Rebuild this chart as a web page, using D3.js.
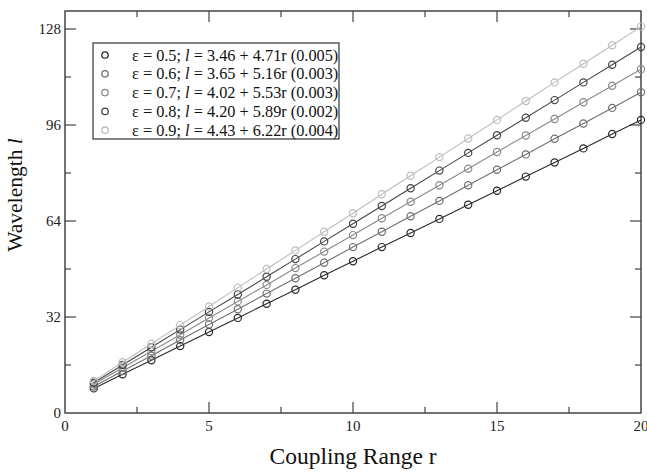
<!DOCTYPE html>
<html lang="en">
<head>
  <meta charset="UTF-8">
  <title>Wavelength vs Coupling Range</title>
  <script src="https://d3js.org/d3.v7.min.js"></script>
  <style>
    body { margin: 0; background: #fff; }
    svg { display: block; font-family: "Liberation Serif", "Times New Roman", serif; }
  </style>
</head>
<body>
<svg width="647" height="473"></svg>
<script>
  // r values
  const couplingRange = [1, 2, 3, 4, 5, 6, 7, 8, 9, 10, 11, 12, 13, 14, 15, 16, 17, 18, 19, 20];

  // wavelength values, one list per epsilon
  const wl05 = [8.2, 12.9, 17.6, 22.3, 27.0, 31.7, 36.4, 41.1, 45.9, 50.6, 55.3, 60.0, 64.7, 69.4, 74.1, 78.8, 83.5, 88.2, 93.0, 97.7];
  const wl06 = [8.8, 14.0, 19.1, 24.3, 29.5, 34.6, 39.8, 44.9, 50.1, 55.3, 60.4, 65.6, 70.7, 75.9, 81.1, 86.2, 91.4, 96.5, 101.7, 106.9];
  const wl07 = [9.6, 15.1, 20.6, 26.1, 31.7, 37.2, 42.7, 48.3, 53.8, 59.3, 64.9, 70.4, 75.9, 81.4, 87.0, 92.5, 98.0, 103.6, 109.1, 114.6];
  const wl08 = [10.1, 16.0, 21.9, 27.8, 33.7, 39.5, 45.4, 51.3, 57.2, 63.1, 69.0, 74.9, 80.8, 86.7, 92.6, 98.4, 104.3, 110.2, 116.1, 122.0];
  const wl09 = [10.7, 16.9, 23.1, 29.3, 35.5, 41.8, 48.0, 54.2, 60.4, 66.6, 72.9, 79.1, 85.3, 91.5, 97.7, 104.0, 110.2, 116.4, 122.6, 128.8];

  const epsilons = ["0.5", "0.6", "0.7", "0.8", "0.9"];
  const fits = ["3.46 + 4.71r (0.005)", "3.65 + 5.16r (0.003)", "4.02 + 5.53r (0.003)", "4.20 + 5.89r (0.002)", "4.43 + 6.22r (0.004)"];
  const seriesValues = [wl05, wl06, wl07, wl08, wl09];
  const greys = ["#2a2a2a", "#707070", "#8a8a8a", "#454545", "#bdbdbd"];

  const xTicks = [0, 5, 10, 15, 20];
  const yTicks = [0, 32, 64, 96, 128];

  const margin = {top: 11, right: 6, bottom: 60, left: 65},
        width = 647 - margin.left - margin.right,
        height = 473 - margin.top - margin.bottom;

  const svg = d3.select("svg")
    .append("g")
    .attr("transform", `translate(${margin.left},${margin.top})`);

  const x = d3.scaleLinear().domain([0, 20]).range([0, width]);
  const y = d3.scaleLinear().domain([0, 134]).range([height, 0]);

  const axisColor = "#444";
  const minorX = d3.range(2.5, 20, 5);
  const minorY = d3.range(16, 134, 32);

  // frame
  svg.append("rect")
    .attr("width", width).attr("height", height)
    .attr("fill", "none").attr("stroke", axisColor).attr("stroke-width", 1.5);

  // ticks, all pointing inward on all four sides
  const tickG = svg.append("g").attr("stroke", axisColor).attr("stroke-width", 1.2);
  [[xTicks.slice(1, -1), 11], [minorX, 6]].forEach(([vals, len]) => {
    vals.forEach(v => {
      tickG.append("line").attr("x1", x(v)).attr("x2", x(v)).attr("y1", height).attr("y2", height - len);
      tickG.append("line").attr("x1", x(v)).attr("x2", x(v)).attr("y1", 0).attr("y2", len);
    });
  });
  [[yTicks.slice(1), 11], [minorY, 6]].forEach(([vals, len]) => {
    vals.forEach(v => {
      tickG.append("line").attr("y1", y(v)).attr("y2", y(v)).attr("x1", 0).attr("x2", len);
      tickG.append("line").attr("y1", y(v)).attr("y2", y(v)).attr("x1", width).attr("x2", width - len);
    });
  });

  // tick labels
  svg.selectAll(".xlab").data(xTicks).join("text")
    .attr("x", d => x(d)).attr("y", height + 18)
    .attr("text-anchor", "middle").attr("font-size", 15).attr("fill", "#222")
    .text(d => d);
  svg.selectAll(".ylab").data(yTicks).join("text")
    .attr("x", -4).attr("y", d => y(d) + 5)
    .attr("text-anchor", "end").attr("font-size", 15).attr("fill", "#222")
    .text(d => d);

  // axis titles
  svg.append("text")
    .attr("x", width / 2).attr("y", height + 51)
    .attr("text-anchor", "middle").attr("font-size", 23.5).attr("fill", "#111")
    .text("Coupling Range r");

  const yTitle = svg.append("text")
    .attr("transform", `translate(${-43},${height / 2 - 17}) rotate(-90)`)
    .attr("text-anchor", "middle").attr("font-size", 21.5).attr("fill", "#111");
  yTitle.append("tspan").text("Wavelength ");
  yTitle.append("tspan").attr("font-style", "italic").text("l");

  // series
  const line = d3.line().x((d, i) => x(couplingRange[i])).y(d => y(d));
  seriesValues.forEach((vals, k) => {
    svg.append("path")
      .datum(vals)
      .attr("fill", "none").attr("stroke", greys[k]).attr("stroke-width", 1.1)
      .attr("d", line);
    svg.selectAll(`.dot${k}`).data(vals).join("circle")
      .attr("cx", (d, i) => x(couplingRange[i]))
      .attr("cy", d => y(d))
      .attr("r", 3.6)
      .attr("fill", "none").attr("stroke", greys[k]).attr("stroke-width", 1.2);
  });

  // legend
  const legend = svg.append("g").attr("transform", `translate(${93 - margin.left},${43 - margin.top})`);
  legend.append("rect")
    .attr("width", 246).attr("height", 96)
    .attr("fill", "#fff").attr("stroke", "#333").attr("stroke-width", 1.2);
  epsilons.forEach((eps, k) => {
    const row = legend.append("g").attr("transform", `translate(0,${12 + k * 18.8})`);
    row.append("circle").attr("cx", 12).attr("cy", 0).attr("r", 3.2)
      .attr("fill", "none").attr("stroke", greys[k]).attr("stroke-width", 1.3);
    const t = row.append("text").attr("x", 39).attr("y", 5.5).attr("font-size", 16.3).attr("fill", "#111");
    t.append("tspan").text(`ε = ${eps}; `);
    t.append("tspan").attr("font-style", "italic").text("l");
    t.append("tspan").text(` = ${fits[k]}`);
  });
</script>
</body>
</html>
